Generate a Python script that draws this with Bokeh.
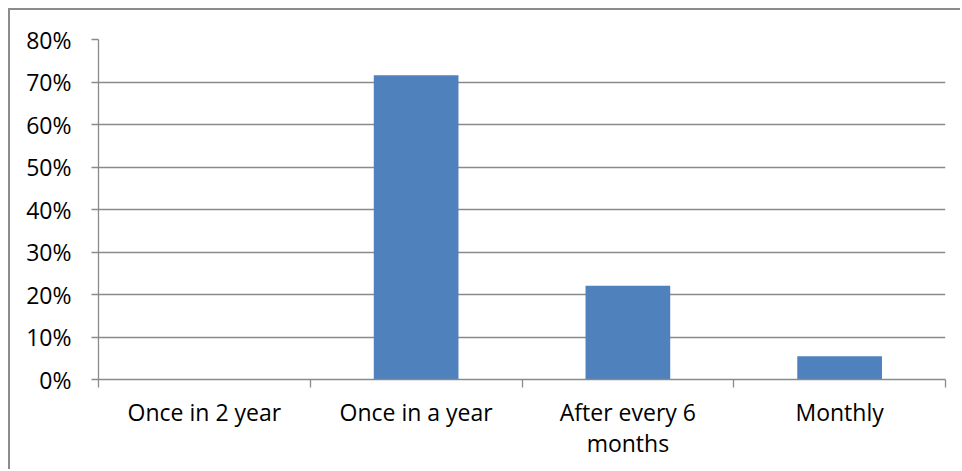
from bokeh.plotting import figure
from bokeh.models import Range1d, FixedTicker, NumeralTickFormatter, ColumnDataSource
from bokeh.embed import file_html
from bokeh.resources import INLINE

categories = ["Once in 2 year", "Once in a year", "After every 6\nmonths", "Monthly"]
values = [0.0, 0.716, 0.2205, 0.055]
y_ticks = [0.0, 0.1, 0.2, 0.3, 0.4, 0.5, 0.6, 0.7, 0.8]

xs = [i + 0.5 for i in range(len(categories))]
src = ColumnDataSource(dict(x=xs, top=values))

p = figure(width=952, height=461, output_backend="svg", toolbar_location=None,
           x_range=Range1d(0, len(categories)), y_range=Range1d(0, 0.8),
           min_border_left=88, min_border_right=17, min_border_top=29, min_border_bottom=92,
           styles={"border-top": "2px solid #8c8c8c", "border-left": "2px solid #8c8c8c",
                   "margin-left": "8px", "margin-top": "8px"})
p.outline_line_color = None
p.background_fill_color = "white"
p.border_fill_color = "white"

p.vbar(x="x", top="top", width=0.4, bottom=0, source=src,
       fill_color="#4F81BD", line_color=None)

# y axis
p.yaxis.ticker = FixedTicker(ticks=y_ticks)
p.yaxis.formatter = NumeralTickFormatter(format="0%")
p.yaxis.axis_line_color = "#8a8a8a"
p.yaxis.axis_line_width = 1.3
p.yaxis.major_tick_line_color = "#8a8a8a"
p.yaxis.major_tick_line_width = 1.3
p.yaxis.major_tick_out = 7
p.yaxis.major_tick_in = 0
p.yaxis.minor_tick_line_color = None
p.yaxis.major_label_standoff = 20
p.yaxis.major_label_text_font = "Open Sans"
p.yaxis.major_label_text_font_size = "23px"
p.yaxis.major_label_text_color = "black"

# x axis
p.xaxis.ticker = FixedTicker(ticks=xs, minor_ticks=list(range(len(categories) + 1)))
p.xaxis.major_label_overrides = {x: c for x, c in zip(xs, categories)}
p.xaxis.axis_line_color = "#8a8a8a"
p.xaxis.axis_line_width = 1.3
p.xaxis.major_tick_line_color = None
p.xaxis.major_tick_out = 0
p.xaxis.major_tick_in = 0
p.xaxis.minor_tick_line_color = "#8a8a8a"
p.xaxis.minor_tick_line_width = 1.3
p.xaxis.minor_tick_out = 8
p.xaxis.minor_tick_in = 0
p.xaxis.major_label_standoff = 8
p.xaxis.major_label_text_font = "Open Sans"
p.xaxis.major_label_text_font_size = "23px"
p.xaxis.major_label_text_color = "black"
p.xaxis.major_label_text_line_height = 0.98

p.xgrid.grid_line_color = None
p.ygrid.ticker = FixedTicker(ticks=y_ticks)
p.ygrid.grid_line_color = "#8a8a8a"
p.ygrid.grid_line_width = 1.3

open("out.html", "w").write(file_html(p, INLINE))
